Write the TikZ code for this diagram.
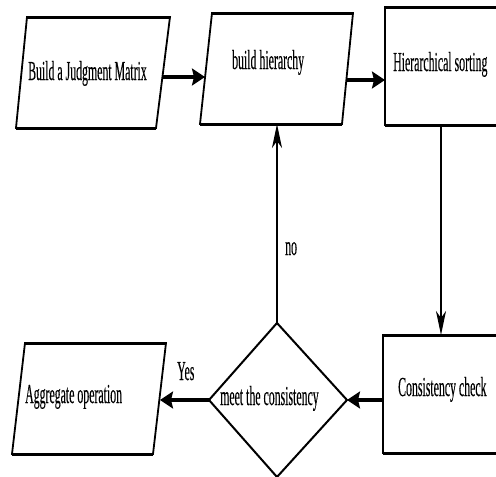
\documentclass[tikz,border=0pt]{standalone}
\usepackage{fontspec}
\newfontfamily\condserif[FakeStretch=0.43,FakeBold=0.2]{Liberation Serif}
\usetikzlibrary{arrows.meta}
\tikzset{
  boxline/.style={line width=1.8pt, line join=miter},
  edgeline/.style={line width=3pt},
  label text/.style={anchor=base west, inner sep=0pt, font=\condserif\fontsize{27.5}{30}\selectfont},
  harrow/.style={line width=3.5pt, -{Stealth[length=13pt,width=17pt,inset=2pt]}},
  varrow/.style={line width=2pt, -{Stealth[length=24pt,width=10pt,inset=7pt]}},
}
\begin{document}
\begin{tikzpicture}[x=1pt,y=-1pt]
\useasboundingbox (0,0) rectangle (496,477);
% shapes
\draw[boxline] (27,17) -- (170,17) -- (156,128) -- (16,128) -- cycle;
\draw[edgeline] (27,17) -- (170,17) (156,128) -- (16,128);
\draw[boxline] (212,13) -- (353,13) -- (342,124) -- (200,124) -- cycle;
\draw[edgeline] (212,13) -- (353,13) (342,124) -- (200,124);
\draw[boxline] (500,7) -- (385,7) -- (385,125) -- (500,125);
\draw[edgeline] (500,7) -- (385,7) (385,125) -- (500,125);
\draw[boxline] (500,335) -- (383,335) -- (383,453) -- (500,453);
\draw[edgeline] (500,335) -- (383,335) (383,453) -- (500,453);
\draw[line width=2pt] (277,323) -- (347,400) -- (277,477) -- (209,400) -- cycle;
\draw[boxline] (25,343) -- (166,343) -- (153,454) -- (12,454) -- cycle;
\draw[edgeline] (25,343) -- (166,343) (153,454) -- (12,454);
% texts
\node[label text] (judg) at (28,80) {Build a Judgment Matrix};
\node[label text] (hier) at (232,69) {build hierarchy};
\node[label text] (sort) at (393,71) {Hierarchical sorting};
\node[label text] (cons) at (398,396) {Consistency check};
\node[label text] (meet) at (220,405) {meet the consistency};
\node[label text] (aggr) at (25,403) {Aggregate operation};
\node[label text] (yes) at (177,380) {Yes};
\node[label text] (no) at (285,255) {no};
% connector ends
\coordinate (judgR) at (162,77);
\coordinate (hierL) at (205,77);
\coordinate (hierR) at (346,80);
\coordinate (sortL) at (385,80);
\coordinate (sortB) at (441,125);
\coordinate (consT) at (441,335);
\coordinate (consL) at (383,400);
\coordinate (meetR) at (347,400);
\coordinate (meetL) at (209,400);
\coordinate (aggrR) at (160,400);
\coordinate (meetT) at (277,323);
\coordinate (hierB) at (277,124);
% connectors
\draw[harrow] (judgR) -- (hierL);
\draw[harrow] (hierR) -- (sortL);
\draw[varrow] (sortB) -- (consT);
\draw[harrow] (consL) -- (meetR);
\draw[harrow] (meetL) -- (aggrR);
\draw[varrow] (meetT) -- (hierB);
\end{tikzpicture}
\end{document}
